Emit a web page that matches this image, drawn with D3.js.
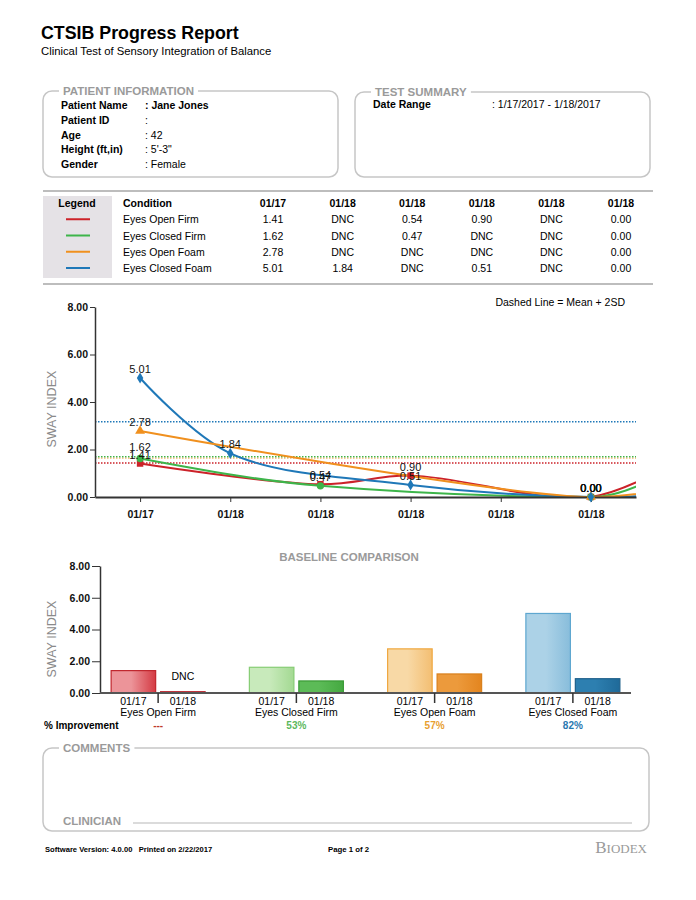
<!DOCTYPE html>
<html>
<head>
<meta charset="utf-8">
<script src="https://cdnjs.cloudflare.com/ajax/libs/d3/7.8.5/d3.min.js"></script>
<style>
  body { margin: 0; background: #fff; }
  svg { display: block; font-family: "Liberation Sans", Arial, sans-serif; }
  .axis path, .axis line { stroke: #333; }
  .axis text { font-family: "Liberation Sans", Arial, sans-serif; font-weight: bold; fill: #111; }
</style>
</head>
<body>
<div id="chart"></div>
<script>
// ---- data ----
var dates = ["01/17", "01/18", "01/18", "01/18", "01/18", "01/18"];
var conditions = ["Eyes Open Firm", "Eyes Closed Firm", "Eyes Open Foam", "Eyes Closed Foam"];
var eyesOpenFirm   = [1.41, null, 0.54, 0.90, null, 0.00];
var eyesClosedFirm = [1.62, null, 0.47, null, null, 0.00];
var eyesOpenFoam   = [2.78, null, null, null, null, 0.00];
var eyesClosedFoam = [5.01, 1.84, null, 0.51, null, 0.00];
// hidden next point that the spline runs to (clipped at the axis end)
var clippedTail = [1.6, 1.4, 0.45, 0.15];
var meanPlus2SD = [1.43, 1.70, 1.63, 3.17];
var yTicks = [0, 2, 4, 6, 8];

var barDates = ["01/17", "01/18"];
var baselineFirst = [1.41, 1.62, 2.78, 5.01];
var baselineLast  = [0.08, 0.76, 1.20, 0.90];
var barNotes = ["DNC", "", "", ""];
var improvement = ["---", "53%", "57%", "82%"];

var patientLabels = ["Patient Name", "Patient ID", "Age", "Height (ft,in)", "Gender"];
var patientValues = ["Jane Jones", "", "42", "5'-3\"", "Female"];

var series = [eyesOpenFirm, eyesClosedFirm, eyesOpenFoam, eyesClosedFoam];
var lineColors = ["#cc2229", "#3db54a", "#f0901e", "#1f78b8"];
var markerTypes = [d3.symbolSquare, d3.symbolCircle, d3.symbolTriangle, d3.symbolDiamond];
var curves = [d3.curveCatmullRom.alpha(0.5), d3.curveMonotoneX, d3.curveCatmullRom.alpha(0.5), d3.curveCatmullRom.alpha(0.5)];
var pctColors = ["#c0392b", "#5cb85c", "#e8a030", "#2a78b0"];
var barEdge  = [["#c0262d", "#b81f27"], ["#86cc74", "#3a9a36"], ["#efa73e", "#d9801c"], ["#5ea7d0", "#1d5f8a"]];
var barLight = [["#d43a43", "#ec9499"], ["#a3d992", "#c8eabb"], ["#f3be72", "#f8d9a6"], ["#88bddb", "#acd2e7"]];
var barDark  = [["#c41f28", "#d3444b"], ["#45a941", "#5cbb57"], ["#e3851f", "#ec9a3c"], ["#1f6a99", "#2d7fb0"]];

var W = 696, H = 900;
var svg = d3.select("#chart").append("svg")
    .attr("width", W)
    .attr("height", H);
svg.append("rect").attr("width", W).attr("height", H).attr("fill", "#fff");
var defs = svg.append("defs");

// ---- header ----
svg.append("text").attr("x", 41).attr("y", 39)
    .attr("font-size", 17.8).attr("font-weight", "bold").attr("fill", "#000")
    .text("CTSIB Progress Report");
svg.append("text").attr("x", 41).attr("y", 55)
    .attr("font-size", 11.3).attr("fill", "#000")
    .text("Clinical Test of Sensory Integration of Balance");

// rounded box with a title sitting on its top edge
function titledBox(x, y, w, h, title) {
    svg.append("rect")
        .attr("x", x).attr("y", y).attr("width", w).attr("height", h)
        .attr("rx", 9).attr("fill", "none")
        .attr("stroke", "#c6c6c6").attr("stroke-width", 1.5);
    var t = svg.append("text")
        .attr("x", x + 20).attr("y", y + 4)
        .attr("font-size", 11.5).attr("font-weight", "bold").attr("fill", "#9a9a9a")
        .text(title);
    var bb = t.node().getBBox();
    svg.insert("rect", function() { return t.node(); })
        .attr("x", bb.x - 4).attr("y", y - 2).attr("width", bb.width + 8).attr("height", 4)
        .attr("fill", "#fff");
}

titledBox(43, 91, 295, 86, "PATIENT INFORMATION");
titledBox(355, 92, 295, 85, "TEST SUMMARY");
titledBox(43, 748, 606, 83, "COMMENTS");

var rowY = d3.scalePoint().domain(d3.range(patientLabels.length)).range([109, 168]);
svg.append("g").selectAll("text")
    .data(patientLabels)
    .enter().append("text")
    .attr("x", 61).attr("y", function(d, i) { return rowY(i); })
    .attr("font-size", 10.5).attr("font-weight", "bold")
    .text(function(d) { return d; });
svg.append("g").selectAll("text")
    .data(patientValues)
    .enter().append("text")
    .attr("x", 145).attr("y", function(d, i) { return rowY(i); })
    .attr("font-size", 10.5)
    .attr("font-weight", function(d, i) { return i == 0 ? "bold" : "normal"; })
    .text(function(d) { return ": " + d; });

svg.append("text").attr("x", 373).attr("y", 108)
    .attr("font-size", 10.5).attr("font-weight", "bold").text("Date Range");
svg.append("text").attr("x", 492).attr("y", 108)
    .attr("font-size", 10.5).text(": 1/17/2017 - 1/18/2017");

// ---- results table ----
var tbl = svg.append("g");
tbl.append("line").attr("x1", 43).attr("x2", 653).attr("y1", 191).attr("y2", 191)
    .attr("stroke", "#bdbdbd").attr("stroke-width", 2);
tbl.append("line").attr("x1", 43).attr("x2", 653).attr("y1", 284).attr("y2", 284)
    .attr("stroke", "#bdbdbd").attr("stroke-width", 2);
tbl.append("rect").attr("x", 43).attr("y", 196).attr("width", 69).attr("height", 82)
    .attr("fill", "#e5e2e6");

var colX = d3.scalePoint().domain(d3.range(dates.length)).range([273, 621]);
var tRowY = d3.scalePoint().domain(d3.range(conditions.length + 1)).range([207, 272]);

tbl.append("text").attr("x", 77).attr("y", tRowY(0)).attr("text-anchor", "middle")
    .attr("font-size", 10.5).attr("font-weight", "bold").text("Legend");
tbl.append("text").attr("x", 123).attr("y", tRowY(0))
    .attr("font-size", 10.5).attr("font-weight", "bold").text("Condition");
tbl.selectAll("text.hdr")
    .data(dates)
    .enter().append("text").attr("class", "hdr")
    .attr("x", function(d, i) { return colX(i); }).attr("y", tRowY(0))
    .attr("text-anchor", "middle").attr("font-size", 10.5).attr("font-weight", "bold")
    .text(function(d) { return d; });

var tRows = tbl.selectAll("g.row")
    .data(series)
    .enter().append("g").attr("class", "row")
    .attr("transform", function(d, i) { return "translate(0," + tRowY(i + 1) + ")"; });
tRows.append("line")
    .attr("x1", 66).attr("x2", 90).attr("y1", -4).attr("y2", -4)
    .attr("stroke", function(d, i) { return lineColors[i]; }).attr("stroke-width", 2);
tRows.append("text").attr("x", 123).attr("font-size", 10.5)
    .text(function(d, i) { return conditions[i]; });
tRows.selectAll("text.val")
    .data(function(d) { return d; })
    .enter().append("text").attr("class", "val")
    .attr("x", function(d, i) { return colX(i); })
    .attr("text-anchor", "middle").attr("font-size", 10.5)
    .text(function(d) { return d == null ? "DNC" : d.toFixed(2); });

// ---- trend chart ----
var x = d3.scaleLinear().domain([-0.5, dates.length - 0.5]).range([95, 636]);
var y = d3.scaleLinear().domain([0, 8]).range([497, 307]);

defs.append("clipPath").attr("id", "plotClip")
    .append("rect")
    .attr("x", x.range()[0]).attr("y", y(8))
    .attr("width", x.range()[1] - x.range()[0]).attr("height", y(0) - y(8));

svg.append("text").attr("x", 625).attr("y", 306).attr("text-anchor", "end")
    .attr("font-size", 10.5).text("Dashed Line = Mean + 2SD");

svg.append("text")
    .attr("transform", "translate(56," + y(3.7) + ") rotate(-90)")
    .attr("text-anchor", "middle").attr("font-size", 12.5).attr("fill", "#8a8a8a")
    .text("SWAY INDEX");

// mean + 2SD reference lines
svg.append("g").selectAll("line")
    .data(meanPlus2SD)
    .enter().append("line")
    .attr("x1", x.range()[0]).attr("x2", x.range()[1])
    .attr("y1", function(d) { return y(d); }).attr("y2", function(d) { return y(d); })
    .attr("stroke", function(d, i) { return lineColors[i]; })
    .attr("stroke-width", 1.5).attr("stroke-dasharray", "1.5,1.5")
    .attr("opacity", function(d, i) { return i == 2 ? 0.5 : 1; });

function seriesPoints(values) {
    return values.map(function(v, i) { return { i: i, v: v }; })
        .filter(function(d) { return d.v != null; });
}

var drawOrder = [0, 1, 3, 2];
svg.append("g").attr("clip-path", "url(#plotClip)")
    .selectAll("path")
    .data(drawOrder)
    .enter().append("path")
    .attr("fill", "none")
    .attr("stroke", function(k) { return lineColors[k]; })
    .attr("stroke-width", 2)
    .attr("d", function(k) {
        var pts = seriesPoints(series[k]);
        pts.push({ i: dates.length, v: clippedTail[k] });
        return d3.line()
            .x(function(d) { return x(d.i); })
            .y(function(d) { return y(d.v); })
            .curve(curves[k])(pts);
    });

var yAxis = svg.append("g").attr("class", "axis")
    .attr("transform", "translate(" + x.range()[0] + ",0)")
    .call(d3.axisLeft(y).tickValues(yTicks).tickFormat(d3.format(".2f"))
        .tickSize(5).tickSizeOuter(0).tickPadding(2));
yAxis.selectAll("text").attr("font-size", 10.5);
yAxis.select(".domain").attr("stroke-width", 1.5);

var xAxis = svg.append("g").attr("class", "axis")
    .attr("transform", "translate(0," + y(0) + ")")
    .call(d3.axisBottom(x).tickValues(d3.range(dates.length))
        .tickFormat(function(i) { return dates[i]; })
        .tickSize(5).tickSizeOuter(0).tickPadding(9));
xAxis.selectAll("text").attr("font-size", 10.5);
xAxis.select(".domain").attr("stroke-width", 2);

// markers
var marks = svg.append("g");
series.forEach(function(values, k) {
    marks.selectAll("path.m" + k)
        .data(seriesPoints(values))
        .enter().append("path").attr("class", "m" + k)
        .attr("transform", function(d) { return "translate(" + x(d.i) + "," + y(d.v) + ")"; })
        .attr("d", d3.symbol().type(markerTypes[k]).size(k == 3 ? 36 : 42))
        .attr("fill", lineColors[k]);
});

// value labels, nudged apart a little where two sit on the same date
var labels = [];
series.forEach(function(values, k) {
    seriesPoints(values).forEach(function(d) {
        labels.push({ i: d.i, v: d.v, ly: y(d.v) - 5 });
    });
});
d3.group(labels, function(d) { return d.i; }).forEach(function(list) {
    list.sort(function(a, b) { return b.ly - a.ly; });
    for (var n = 1; n < list.length; n++) {
        var gap = list[n - 1].ly - list[n].ly;
        if (gap > 2.5 && gap < 8) list[n].ly = list[n - 1].ly - 8;
    }
});
marks.selectAll("text")
    .data(labels)
    .enter().append("text")
    .attr("x", function(d) { return x(d.i); })
    .attr("y", function(d) { return d.ly; })
    .attr("text-anchor", "middle").attr("font-size", 11).attr("fill", "#111")
    .text(function(d) { return d.v.toFixed(2); });

// ---- baseline comparison bars ----
var by = d3.scaleLinear().domain([0, 8]).range([693, 566]);
var gx = d3.scaleBand().domain(conditions).range([89, 642]);
var ix = d3.scaleBand().domain(barDates).range([-47, 47]).paddingInner(0.1);

svg.append("text").attr("x", 349).attr("y", 561).attr("text-anchor", "middle")
    .attr("font-size", 11.5).attr("font-weight", "bold").attr("fill", "#9a9a9a")
    .text("BASELINE COMPARISON");
svg.append("text")
    .attr("transform", "translate(56," + by(3.4) + ") rotate(-90)")
    .attr("text-anchor", "middle").attr("font-size", 12.5).attr("fill", "#8a8a8a")
    .text("SWAY INDEX");

// gradients for the bars
conditions.forEach(function(c, k) {
    [barLight[k], barDark[k]].forEach(function(pair, j) {
        var g = defs.append("linearGradient").attr("id", "bar" + k + "_" + j)
            .attr("x1", "0%").attr("x2", "100%").attr("y1", "0%").attr("y2", "0%");
        g.append("stop").attr("offset", "0%").attr("stop-color", pair[1]);
        g.append("stop").attr("offset", "45%").attr("stop-color", pair[1]);
        g.append("stop").attr("offset", "100%").attr("stop-color", pair[0]);
    });
});

var barData = [];
conditions.forEach(function(c, k) {
    barData.push({ k: k, c: c, j: 0, v: baselineFirst[k] });
    barData.push({ k: k, c: c, j: 1, v: baselineLast[k] });
});

var groupCenter = function(c) { return gx(c) + gx.bandwidth() / 2; };

svg.append("g").selectAll("rect")
    .data(barData)
    .enter().append("rect")
    .attr("x", function(d) { return groupCenter(d.c) + ix(barDates[d.j]); })
    .attr("y", function(d) { return by(d.v); })
    .attr("width", ix.bandwidth())
    .attr("height", function(d) { return by(0) - by(d.v); })
    .attr("fill", function(d) { return "url(#bar" + d.k + "_" + d.j + ")"; })
    .attr("stroke", function(d) { return barEdge[d.k][d.j]; })
    .attr("stroke-width", 1.2);

svg.append("g").selectAll("text")
    .data(barNotes)
    .enter().append("text")
    .attr("x", function(d, k) { return groupCenter(conditions[k]) + ix("01/18") + ix.bandwidth() / 2; })
    .attr("y", function(d, k) { return by(baselineLast[k]) - 12; })
    .attr("text-anchor", "middle").attr("font-size", 10.5)
    .text(function(d) { return d; });

var byAxis = svg.append("g").attr("class", "axis")
    .attr("transform", "translate(100,0)")
    .call(d3.axisLeft(by).tickValues(yTicks).tickFormat(d3.format(".2f"))
        .tickSize(8).tickSizeOuter(0).tickPadding(2));
byAxis.selectAll("text").attr("font-size", 10.5);
byAxis.select(".domain").attr("stroke-width", 1.5);

svg.append("line").attr("x1", 100).attr("x2", 631).attr("y1", by(0)).attr("y2", by(0))
    .attr("stroke", "#555").attr("stroke-width", 2);

var gAxis = svg.append("g").attr("class", "axis")
    .attr("transform", "translate(0," + by(0) + ")")
    .call(d3.axisBottom(gx).tickSize(10).tickSizeOuter(0).tickFormat(""));
gAxis.select(".domain").remove();
gAxis.selectAll("line").attr("stroke", "#555").attr("stroke-width", 1.5);

svg.append("g").selectAll("text")
    .data(barData)
    .enter().append("text")
    .attr("x", function(d) { return groupCenter(d.c) + ix(barDates[d.j]) + ix.bandwidth() / 2; })
    .attr("y", 705)
    .attr("text-anchor", "middle").attr("font-size", 10.5)
    .text(function(d) { return barDates[d.j]; });

svg.append("g").selectAll("text")
    .data(conditions)
    .enter().append("text")
    .attr("x", function(d) { return groupCenter(d); })
    .attr("y", 716)
    .attr("text-anchor", "middle").attr("font-size", 10.5)
    .text(function(d) { return d; });

svg.append("text").attr("x", 44).attr("y", 729)
    .attr("font-size", 10).attr("font-weight", "bold").text("% Improvement");
svg.append("g").selectAll("text")
    .data(improvement)
    .enter().append("text")
    .attr("x", function(d, k) { return groupCenter(conditions[k]); })
    .attr("y", 729)
    .attr("text-anchor", "middle").attr("font-size", 10).attr("font-weight", "bold")
    .attr("fill", function(d, k) { return pctColors[k]; })
    .text(function(d) { return d; });

// ---- comments / footer ----
svg.append("text").attr("x", 63).attr("y", 825)
    .attr("font-size", 11.5).attr("font-weight", "bold").attr("fill", "#9a9a9a")
    .text("CLINICIAN");
svg.append("line").attr("x1", 133).attr("x2", 632).attr("y1", 823).attr("y2", 823)
    .attr("stroke", "#cfcfcf").attr("stroke-width", 1.5);

svg.append("text").attr("x", 45).attr("y", 852)
    .attr("font-size", 7.6).attr("font-weight", "bold")
    .attr("xml:space", "preserve")
    .text("Software Version: 4.0.00   Printed on 2/22/2017");
svg.append("text").attr("x", 328).attr("y", 852)
    .attr("font-size", 7.8).attr("font-weight", "bold").text("Page 1 of 2");

var logo = svg.append("text").attr("x", 647).attr("y", 853).attr("text-anchor", "end")
    .attr("font-family", "'Liberation Serif', 'DejaVu Serif', serif").attr("fill", "#9a9a9a");
logo.append("tspan").attr("font-size", 17).text("B");
logo.append("tspan").attr("font-size", 13).text("IODEX");
</script>
</body>
</html>
